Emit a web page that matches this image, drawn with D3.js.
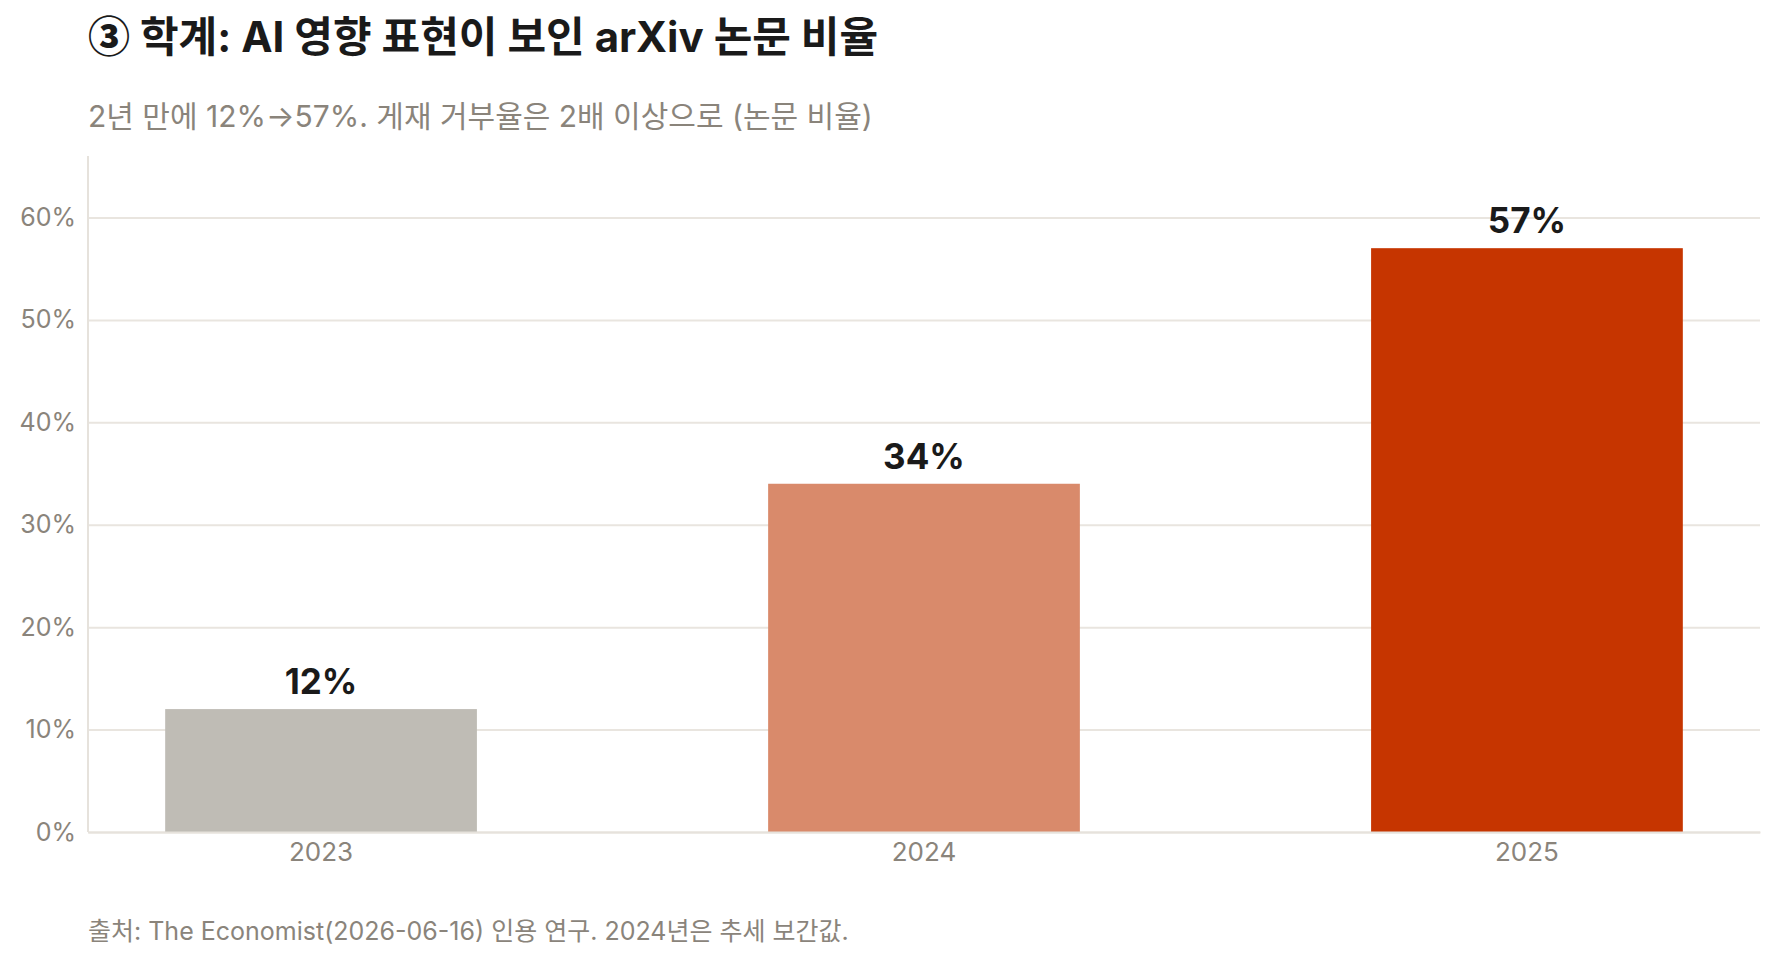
<!DOCTYPE html>
<html>
<head>
<meta charset="utf-8">
<script src="https://cdn.jsdelivr.net/npm/d3@7"></script>
<style>
  body { margin: 0; background: #fff; }
  svg text { font-family: Inter, "Noto Sans CJK KR", sans-serif; }
  .tick line { stroke: #e9e5df; stroke-width: 2; }
  .tick text { fill: #8a847b; }
</style>
</head>
<body>
<svg id="chart" width="1779" height="964"></svg>
<script>
var years = ["2023", "2024", "2025"];
var shares = [12, 34, 57];
var barColors = ["#bfbcb5", "#d98a6b", "#c63500"];
var yTicks = [0, 10, 20, 30, 40, 50, 60];

var svg = d3.select("#chart");
var
  margin = { top: 156, right: 19, bottom: 132, left: 88 },
  width = +svg.attr("width") - margin.left - margin.right,
  height = +svg.attr("height") - margin.top - margin.bottom;

// title + subtitle + source
var title = svg.append("text")
  .attr("x", 88).attr("y", 52)
  .style("font-size", "42px").style("font-weight", 700)
  .style("fill", "#1a1a1a");
title.append("tspan")
  .style("font-family", "'Noto Sans CJK KR'")
  .style("font-weight", 900)
  .text("③");
title.append("tspan").text(" 학계: AI 영향 표현이 보인 arXiv 논문 비율");

svg.append("text")
  .attr("x", 88).attr("y", 127)
  .style("font-size", "30px")
  .style("fill", "#8a847b")
  .text("2년 만에 12%→57%. 게재 거부율은 2배 이상으로 (논문 비율)");

svg.append("text")
  .attr("x", 88).attr("y", 940)
  .style("font-size", "25px")
  .style("fill", "#8a847b")
  .text("출처: The Economist(2026-06-16) 인용 연구. 2024년은 추세 보간값.");

var g = svg.append("g")
  .attr("transform", "translate(" + margin.left + "," + margin.top + ")");

var x = d3.scaleBand().domain(years).range([0, width])
  .paddingInner(0.483).paddingOuter(0.128);
var y = d3.scaleLinear().domain([0, 66]).range([height, 0]);

// gridlines + y labels
var yAxis = g.append("g")
  .call(d3.axisLeft(y).tickValues(yTicks).tickSize(-width).tickPadding(12)
    .tickFormat(function (d) { return d + "%"; }));
yAxis.select(".domain").remove();
yAxis.selectAll("text").style("font-size", "25px");

// left axis line
g.append("line")
  .attr("x1", 0).attr("x2", 0).attr("y1", 0).attr("y2", height)
  .style("stroke", "#e6e2dc").style("stroke-width", 2);

var data = years.map(function (d, i) {
  return { year: d, value: shares[i], color: barColors[i] };
});

g.selectAll(".bar")
  .data(data)
  .enter()
  .append("rect")
  .attr("class", "bar")
  .attr("x", function (d) { return x(d.year); })
  .attr("y", function (d) { return y(d.value); })
  .attr("width", x.bandwidth())
  .attr("height", function (d) { return height - y(d.value); })
  .style("fill", function (d) { return d.color; });

g.selectAll(".val")
  .data(data)
  .enter()
  .append("text")
  .attr("class", "val")
  .attr("x", function (d) { return x(d.year) + x.bandwidth() / 2; })
  .attr("y", function (d) { return y(d.value) - 15; })
  .attr("text-anchor", "middle")
  .style("font-size", "35px").style("font-weight", 700)
  .style("fill", "#1a1a1a")
  .text(function (d) { return d.value + "%"; });

// bottom axis
var xAxis = g.append("g")
  .attr("transform", "translate(0," + height + ")")
  .call(d3.axisBottom(x).tickSize(0).tickPadding(11));
xAxis.select(".domain").style("stroke", "#e6e2dc").style("stroke-width", 2);
xAxis.selectAll("text").style("font-size", "26px");
</script>
</body>
</html>
